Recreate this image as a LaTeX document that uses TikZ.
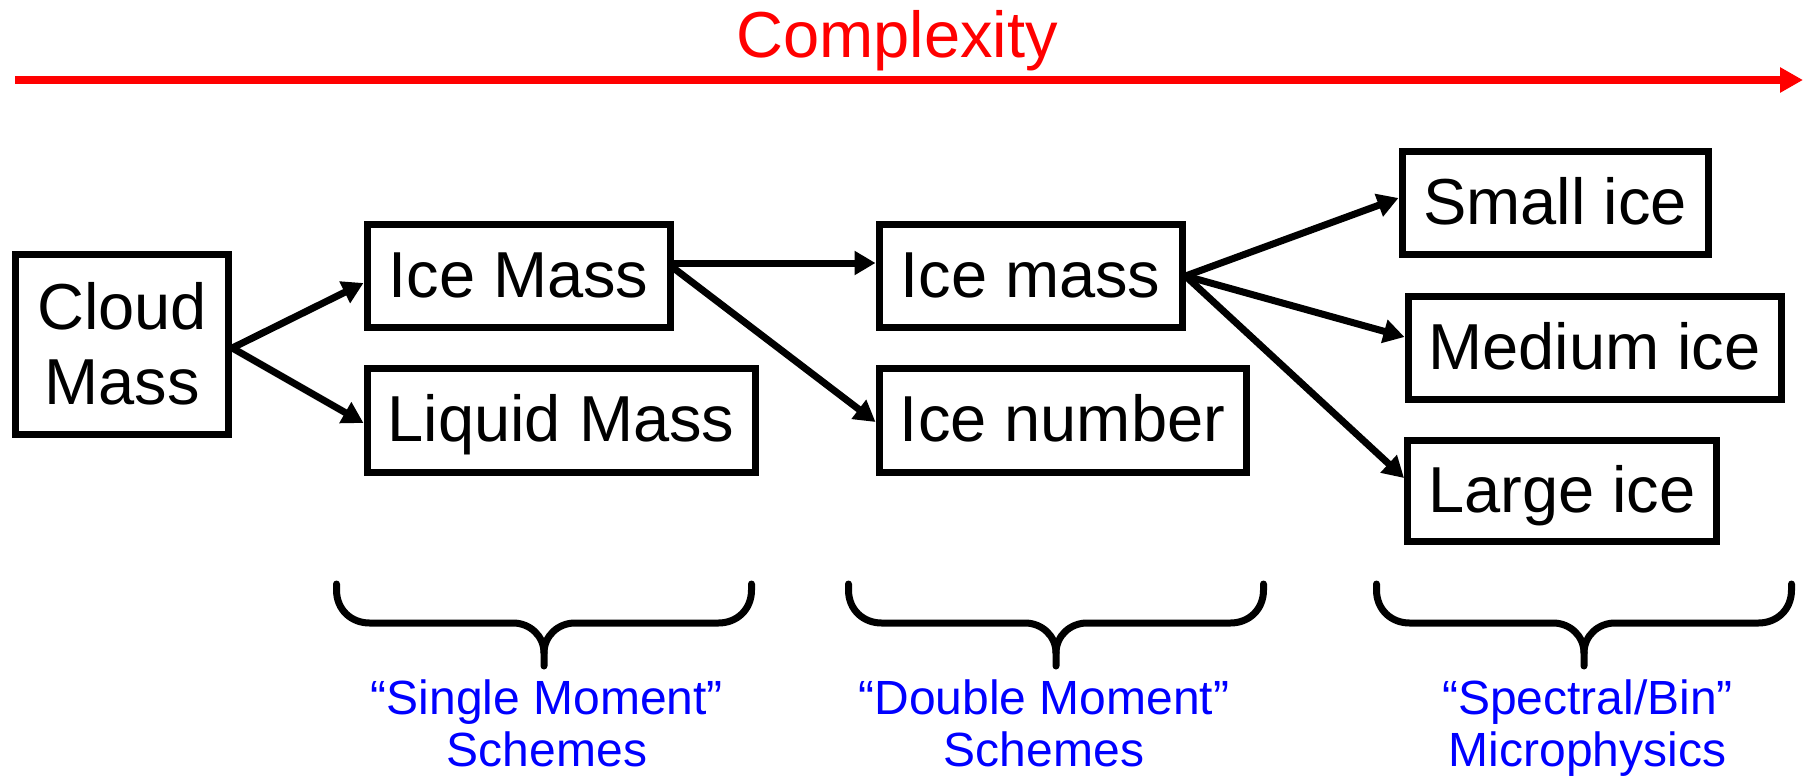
\documentclass[tikz,border=0pt]{standalone}
\usepackage{fontspec}
\setmainfont{Liberation Sans}
\usetikzlibrary{arrows.meta,positioning}

\begin{document}
\begin{tikzpicture}[
x=1pt,y=-1pt,
box/.style={draw,line width=7pt,inner sep=0pt,font=\fontsize{65}{75}\selectfont},
varbox/.style={box,text height=47pt,text depth=5pt},
flow/.style={-{Triangle[length=21pt,width=23pt]},line width=7pt},
scheme/.style={align=center,text=blue,inner sep=0pt,font=\fontsize{48}{52}\selectfont},
bracestroke/.style={line width=7pt,line cap=round},
schemebrace/.pic={
  \draw[bracestroke] (-207.5,584) -- (-207.5,590) .. controls (-207.5,610) and (-192.5,623) .. (-174.5,623)
    -- (-31,623) .. controls (-14,623) and (0,636) .. (0,653) -- (0,666);
  \draw[bracestroke] (0,653) .. controls (0,636) and (14,623) .. (31,623)
    -- (174.5,623) .. controls (192.5,623) and (207.5,610) .. (207.5,590) -- (207.5,584);
  \coordinate (-tip) at (0,666);
}
]
\useasboundingbox (0,0) rectangle (1806,778);
\node[text=red,font=\fontsize{65}{75}\selectfont,anchor=base] (cplx) at (897,58) {Complexity};
\coordinate (cplxstart) at (15,80);
\coordinate (cplxend) at (1803,80);
\draw[-{Triangle[length=23pt,width=24pt]},red,line width=8pt] (cplxstart) -- (cplxend);

\node[box,align=center,minimum width=213.5pt,minimum height=180pt,yshift=4pt] (cloud) at (122,348) {Cloud\\Mass};
\node[varbox,minimum width=303pt,minimum height=103pt] (iceM) at (518.5,276) {Ice Mass};
\node[varbox,minimum width=388pt,minimum height=104pt] (liquid) at (561,420) {Liquid Mass};
\node[varbox,minimum width=303pt,minimum height=103pt] (icem) at (1030.5,276) {Ice mass};
\node[varbox,minimum width=367pt,minimum height=104pt] (icenum) at (1062.5,420) {Ice number};
\node[varbox,minimum width=306pt,minimum height=103pt] (small) at (1555,203) {Small ice};
\node[varbox,minimum width=373pt,minimum height=103pt] (medium) at (1594.5,348) {Medium ice};
\node[varbox,minimum width=309pt,minimum height=101pt] (large) at (1562,491) {Large ice};

\draw[flow] ([yshift=-4pt]cloud.east) -- ([yshift=-7pt]iceM.west);
\draw[flow] ([yshift=-4pt]cloud.east) -- ([yshift=-3pt]liquid.west);
\draw[flow] ([yshift=13pt]iceM.east) -- ([yshift=13pt]icem.west);
\draw[flow] ([yshift=8pt]iceM.east) -- ([yshift=-2pt]icenum.west);
\draw[flow] (icem.east) -- ([yshift=5pt]small.west);
\draw[flow] (icem.east) -- ([yshift=11pt]medium.west);
\draw[flow] (icem.east) -- ([yshift=13pt]large.west);

\pic (sb1) at (544,0) {schemebrace};
\pic (sb2) at (1056,0) {schemebrace};
\pic (sb3) at (1584,0) {schemebrace};
\node[scheme,below=14pt of sb1-tip,xshift=3pt] (single) {“Single Moment”\\Schemes};
\node[scheme,below=14pt of sb2-tip,xshift=-12pt] (double) {“Double Moment”\\Schemes};
\node[scheme,below=14pt of sb3-tip,xshift=3.5pt] (spectral) {“Spectral/Bin”\\Microphysics};
\end{tikzpicture}
\end{document}
